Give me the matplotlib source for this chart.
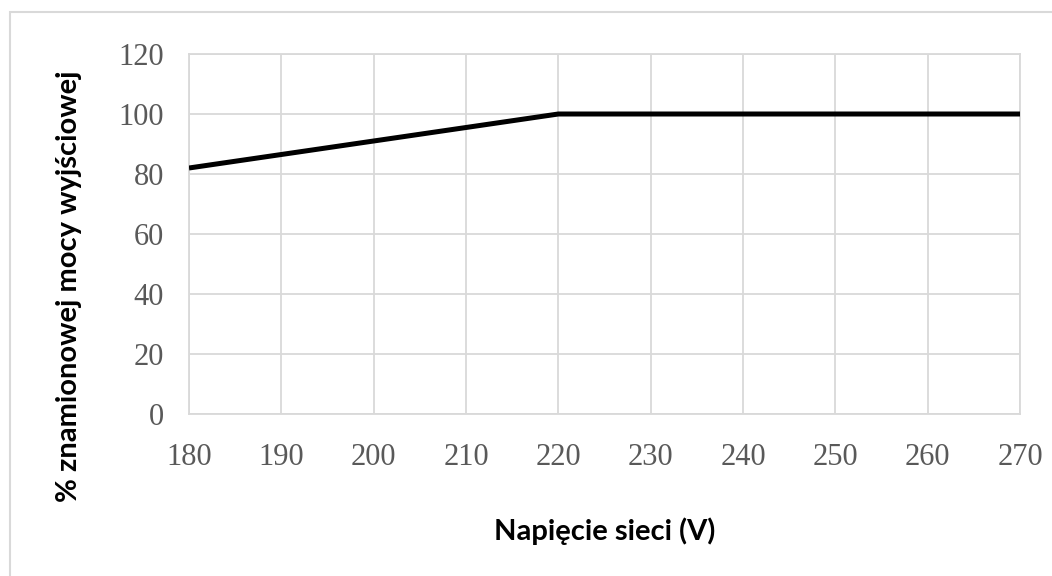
import matplotlib
matplotlib.use("Agg")
import matplotlib.pyplot as plt
from matplotlib.patches import Rectangle

# Derating curve: output power vs. mains voltage
voltage = [180, 190, 200, 210, 220, 230, 240, 250, 260, 270]
power_pct = [82, 86.5, 91, 95.5, 100, 100, 100, 100, 100, 100]
x_ticks = [180, 190, 200, 210, 220, 230, 240, 250, 260, 270]
y_ticks = [0, 20, 40, 60, 80, 100, 120]
x_label = "Napięcie sieci (V)"
y_label = "% znamionowej mocy wyjściowej"

W, H = 1052, 576
fig = plt.figure(figsize=(W / 100, H / 100), dpi=100)
fig.patch.set_facecolor("white")

grid_c = "#d9d9d9"

# outer chart frame
fig.add_artist(Rectangle((10 / W, -0.05), 1.2, (H - 12) / H + 0.05,
                         transform=fig.transFigure, fill=False,
                         edgecolor=grid_c, linewidth=1.5))

left, right = 189 / W, 1020 / W
bottom, top = 1 - 414 / H, 1 - 54 / H
ax = fig.add_axes([left, bottom, right - left, top - bottom])

ax.plot(voltage, power_pct, color="black", linewidth=3.6, solid_capstyle="butt",
        solid_joinstyle="miter", zorder=3)

ax.set_xlim(180, 270)
ax.set_ylim(0, 120)
ax.set_xticks(x_ticks)
ax.set_yticks(y_ticks)
ax.grid(True, color=grid_c, linewidth=1.3)
ax.set_axisbelow(True)
for s in ax.spines.values():
    s.set_color(grid_c)
    s.set_linewidth(1.3)

ax.tick_params(length=0, labelsize=22, labelcolor="#595959")
ax.tick_params(axis="x", pad=21)
ax.tick_params(axis="y", pad=18)
for lab in ax.get_xticklabels() + ax.get_yticklabels():
    lab.set_fontfamily("Liberation Serif")

fig.text(605 / W, 1 - 531 / H, x_label, ha="center", va="center",
         fontsize=21, fontweight="bold", family="Lato", color="black")
fig.text(69 / W, 1 - 286 / H, y_label, ha="center", va="center",
         rotation=90, fontsize=21, fontweight="bold", family="Lato", color="black")

fig.savefig("out.png", dpi=100)
